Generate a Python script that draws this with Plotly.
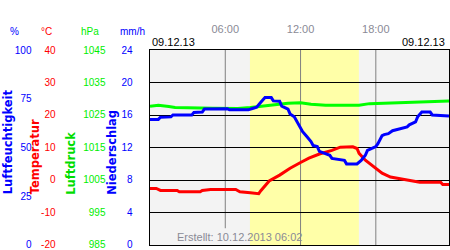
import plotly.graph_objects as go

DAY = "2013-12-09"

HUM_TIME = ["00:00", "00:40", "00:50", "01:40", "01:50", "03:20", "03:30", "04:10", "04:20", "05:00",
            "06:10", "06:20", "07:50", "08:10", "08:30", "08:50", "09:10", "09:40", "09:50", "10:20",
            "10:30", "11:00", "11:10", "11:30", "11:50", "12:10", "12:30", "12:50", "13:00", "13:20",
            "13:30", "14:20", "14:30", "15:30", "15:40", "16:30", "16:50", "17:10", "17:20", "18:00",
            "18:10", "18:30", "18:40", "19:00", "19:20", "19:50", "20:30", "20:40", "21:10", "21:20",
            "21:40", "22:20", "22:30", "23:50"]
HUM_VAL = [64.4, 64.4, 65.5, 65.7, 66.7, 66.7, 68.0, 68.2, 69.7, 69.9,
           69.9, 69.3, 69.3, 70.0, 70.7, 73.2, 75.6, 75.6, 73.9, 73.7,
           71.2, 69.7, 67.2, 65.7, 62.1, 58.1, 55.6, 53.0, 51.0, 50.5,
           48.0, 46.0, 44.4, 43.4, 41.6, 41.6, 43.4, 46.0, 48.5, 50.5,
           52.0, 56.1, 56.6, 57.1, 58.6, 59.6, 60.6, 61.6, 63.1, 65.7,
           68.2, 68.2, 66.7, 66.2]

TEMP_TIME = ["00:00", "00:30", "00:50", "02:10", "02:20", "04:00", "04:10", "04:50", "06:50", "07:10",
             "08:00", "08:40", "08:50", "09:30", "10:20", "11:10", "12:00", "12:40", "13:30", "14:30",
             "15:10", "16:10", "16:30", "16:40", "17:10", "17:50", "18:10", "18:30", "19:10", "19:40",
             "20:20", "21:00", "21:30", "23:10", "23:20", "23:50"]
TEMP_VAL = [-2.6, -2.6, -3.2, -3.2, -3.6, -3.6, -3.2, -2.9, -2.9, -3.6,
            -3.9, -4.2, -3.3, -0.3, 1.5, 3.6, 5.4, 6.7, 8.0, 9.1,
            10.1, 10.2, 9.7, 8.2, 6.1, 4.2, 3.0, 2.1, 0.9, 0.6,
            0.0, -0.3, -0.7, -0.7, -1.4, -1.4]

PRES_TIME = ["00:00", "00:40", "01:30", "02:00", "05:00", "07:00", "08:00", "09:00", "09:40", "11:00",
             "12:00", "12:50", "14:00", "16:40", "17:30", "20:00", "21:30", "22:40", "23:50"]
PRES_VAL = [1027.7, 1028.0, 1027.6, 1027.3, 1027.1, 1027.0, 1027.3, 1027.7, 1028.2, 1028.6,
            1028.8, 1028.3, 1028.0, 1028.0, 1028.5, 1028.8, 1029.0, 1029.3, 1029.3]

SUN_TIMES = ["07:58", "16:39"]
HOUR_TICKS = ["06:00", "12:00", "18:00"]
HUM_TICKS = [0, 25, 50, 75, 100]
TEMP_TICKS = [-20, -10, 0, 10, 20, 30, 40]
PRES_TICKS = [985, 995, 1005, 1015, 1025, 1035, 1045]
RAIN_TICKS = [0, 4, 8, 12, 16, 20, 24]
UNITS = ["%", "°C", "hPa", "mm/h"]
TITLES = ["Luftfeuchtigkeit", "Temperatur", "Luftdruck", "Niederschlag"]
DATE_LABEL = "09.12.13"
CREATED = "Erstellt: 10.12.2013 06:02"

# ---- layout geometry (pixels) ----
W, H = 450, 250
ML, MR, MT, MB = 0, 1, 50, 2
PW, PH = W - ML - MR, H - MT - MB


def px(x):
    return (x - ML) / PW


def py(y):
    return (MT + PH - y) / PH


def ts(t):
    return f"{DAY} {t}"


BLUE = "#0000ff"
RED = "#ff0000"
GREEN = "#00ee00"
LINE_GREEN = "#00ff00"
GRAY = "#8a8a96"
TICK_FONT = "Liberation Sans, Arial, sans-serif"
TITLE_FONT = "DejaVu Sans, sans-serif"

fig = go.Figure()
fig.add_trace(go.Scatter(x=[ts(t) for t in PRES_TIME], y=PRES_VAL, yaxis="y", mode="lines",
                         line=dict(color=LINE_GREEN, width=3), hoverinfo="skip"))
fig.add_trace(go.Scatter(x=[ts(t) for t in TEMP_TIME], y=TEMP_VAL, yaxis="y2", mode="lines",
                         line=dict(color=RED, width=3), hoverinfo="skip"))
fig.add_trace(go.Scatter(x=[ts(t) for t in HUM_TIME], y=HUM_VAL, yaxis="y3", mode="lines",
                         line=dict(color=BLUE, width=3), hoverinfo="skip"))
# empty traces so that the label-only scales are drawn
for ax in ["y4", "y5", "y6", "y7"]:
    fig.add_trace(go.Scatter(x=[None], y=[None], yaxis=ax, mode="lines", hoverinfo="skip"))

label_dom = [py(243), 1]


def label_axis(rng, ticks, color, right_edge):
    span = rng[1] - rng[0]
    return dict(overlaying="y", anchor="free", position=px(right_edge + 3), side="left",
                range=[rng[0] - span * 1e-4, rng[1]], domain=label_dom,
                tickvals=ticks, ticktext=[str(v) for v in ticks], ticklabeloverflow="allow",
                tickfont=dict(family=TICK_FONT, size=10, color=color),
                showgrid=False, zeroline=False, showline=False, ticks="", fixedrange=True)


fig.update_layout(
    width=W, height=H, margin=dict(l=ML, r=MR, t=MT, b=MB, pad=0),
    paper_bgcolor="white", plot_bgcolor="#f3f3f3", showlegend=False,
    xaxis=dict(domain=[px(150), 1], type="date", range=[ts("00:00"), ts("23:50")], side="top",
               tickvals=[ts(t) for t in HOUR_TICKS], ticktext=HOUR_TICKS,
               ticks="outside", ticklen=12, tickcolor="rgba(0,0,0,0)",
               tickfont=dict(family=TICK_FONT, size=11, color=GRAY),
               showgrid=False, zeroline=False, showline=True, linecolor="black", linewidth=1,
               mirror=True, fixedrange=True),
    yaxis=dict(domain=[0, 1], range=[PRES_TICKS[0], PRES_TICKS[-1]], showticklabels=False,
               showgrid=False, zeroline=False, showline=True, linecolor="black", linewidth=1,
               mirror=True, ticks="", fixedrange=True),
    yaxis2=dict(overlaying="y", range=[TEMP_TICKS[0], TEMP_TICKS[-1]], tickvals=TEMP_TICKS,
                showticklabels=False, showgrid=True, gridcolor="black", gridwidth=1,
                zeroline=False, showline=False, ticks="", fixedrange=True),
    yaxis3=dict(overlaying="y", range=[HUM_TICKS[0], HUM_TICKS[-1]], visible=False, fixedrange=True),
    yaxis4=label_axis([HUM_TICKS[0], HUM_TICKS[-1]], HUM_TICKS, BLUE, 28.5),
    yaxis5=label_axis([TEMP_TICKS[0], TEMP_TICKS[-1]], TEMP_TICKS, RED, 52.5),
    yaxis6=label_axis([PRES_TICKS[0], PRES_TICKS[-1]], PRES_TICKS, GREEN, 102.5),
    yaxis7=label_axis([RAIN_TICKS[0], RAIN_TICKS[-1]], RAIN_TICKS, BLUE, 129.5),
)

# daylight band and vertical hour lines
shapes = [dict(type="rect", xref="x", yref="paper", x0=ts(SUN_TIMES[0]), x1=ts(SUN_TIMES[1]),
               y0=0, y1=1, fillcolor="#ffffa8", line=dict(width=0), layer="below")]
for t in HOUR_TICKS:
    y0 = py(231) if t == "06:00" else 0
    shapes.append(dict(type="line", xref="x", yref="paper", x0=ts(t), x1=ts(t), y0=y0, y1=1,
                       line=dict(color="#808080", width=1), layer="below"))
fig.update_layout(shapes=shapes)

ann = []
unit_x = [14, 46.5, 89.5, 132.5]
unit_col = [BLUE, RED, GREEN, BLUE]
for u, x, c in zip(UNITS, unit_x, unit_col):
    ann.append(dict(text=u, x=px(x), y=py(31), xref="paper", yref="paper", xanchor="center",
                    yanchor="middle", showarrow=False, font=dict(family=TICK_FONT, size=10, color=c)))

title_pos = [(0, "left"), (35, "center"), (71.5, "center"), (112.5, "center")]
title_col = [BLUE, RED, "#00dd00", BLUE]
for t, (x, xa), c in zip(TITLES, title_pos, title_col):
    ann.append(dict(text=f"<b>{t}</b>", x=px(x), y=py(198), xref="paper", yref="paper",
                    xanchor=xa, yanchor="bottom", textangle=-90, showarrow=False, borderpad=0,
                    font=dict(family=TITLE_FONT, size=11.5, color=c)))

ann.append(dict(text=DATE_LABEL, x=px(150), y=py(42), xref="paper", yref="paper", xanchor="left",
                yanchor="middle", showarrow=False, font=dict(family=TICK_FONT, size=11, color="black")))
ann.append(dict(text=DATE_LABEL, x=px(447), y=py(42), xref="paper", yref="paper", xanchor="right",
                yanchor="middle", showarrow=False, font=dict(family=TICK_FONT, size=11, color="black")))
ann.append(dict(text=CREATED, x=px(175), y=py(240), xref="paper", yref="paper", xanchor="left",
                yanchor="middle", showarrow=False, font=dict(family=TICK_FONT, size=11, color=GRAY)))
fig.update_layout(annotations=ann)

fig.write_html("out.html", config={"displayModeBar": False})
